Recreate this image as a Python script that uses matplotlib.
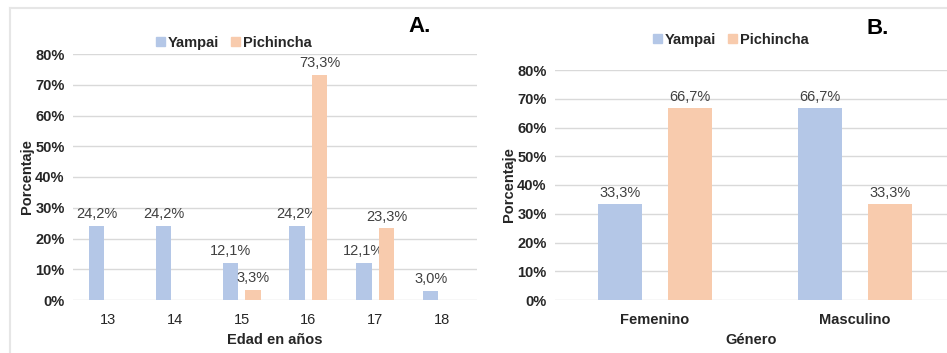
import matplotlib.pyplot as plt
import numpy as np
from matplotlib.patches import Patch

# --- data ---
edades = ['13', '14', '15', '16', '17', '18']
yampai_edad = [24.2, 24.2, 12.1, 24.2, 12.1, 3.0]
pichincha_edad = [None, None, 3.3, 73.3, 23.3, None]

generos = ['Femenino', 'Masculino']
yampai_gen = [33.3, 66.7]
pichincha_gen = [66.7, 33.3]

c_yam = '#b4c7e7'
c_pic = '#f8cbad'
grid_c = '#d9d9d9'

plt.rcParams['font.family'] = ['Liberation Sans', 'DejaVu Sans']

fig = plt.figure(figsize=(9.47, 3.53), dpi=100)

# light frame around the panels
fig.add_artist(plt.Line2D([10/947, 10/947], [0, 1 - 8/353], color='#e6e6e6', lw=1.5))
fig.add_artist(plt.Line2D([10/947, 1], [1 - 8/353, 1 - 8/353], color='#e6e6e6', lw=1.5))


def fmt(v):
    return ('%.1f%%' % v).replace('.', ',')


def draw(ax, cats, s1, s2, width, off, bold_x):
    x = np.arange(len(cats))
    for vals, dx, col in ((s1, -off, c_yam), (s2, off, c_pic)):
        for xi, v in zip(x, vals):
            if v is None:
                continue
            ax.bar(xi + dx, v, width, color=col, zorder=3)
            ax.text(xi + dx, v + 1.5, fmt(v), ha='center', va='bottom',
                    fontsize=10.5, color='#404040')
    ax.set_ylim(0, 80)
    ax.set_yticks(range(0, 81, 10))
    ax.set_yticklabels(['%d%%' % t for t in range(0, 81, 10)],
                       fontsize=10.5, fontweight='bold', color='#262626')
    ax.set_xticks(x)
    ax.set_xticklabels(cats, fontsize=10.5,
                       fontweight='bold' if bold_x else 'normal', color='#262626')
    ax.yaxis.grid(True, color=grid_c, lw=1, zorder=0)
    ax.set_axisbelow(True)
    for s in ax.spines.values():
        s.set_visible(False)
    ax.tick_params(length=0, pad=6)
    ax.tick_params(axis='x', pad=9)


# panel A
axA = fig.add_axes([73/947, 53/353, 404/947, 246/353])
draw(axA, edades, yampai_edad, pichincha_edad, 0.23, 0.17, False)
axA.set_xlim(-0.524, 5.524)
axA.set_xlabel('Edad en años', fontsize=10.5, fontweight='bold', color='#262626', labelpad=5)
axA.set_ylabel('Porcentaje', fontsize=10.5, fontweight='bold', color='#262626', labelpad=1)

# panel B
axB = fig.add_axes([555/947, 53/353, 392/947, 230/353])
draw(axB, generos, yampai_gen, pichincha_gen, 0.22, 0.175, True)
axB.set_xlim(-0.5, 1.46)
axB.set_xlabel('Género', fontsize=10.5, fontweight='bold', color='#262626', labelpad=5)
axB.set_ylabel('Porcentaje', fontsize=10.5, fontweight='bold', color='#262626', labelpad=1)

# legends
handles = [Patch(color=c_yam, label='Yampai'), Patch(color=c_pic, label='Pichincha')]
for cx, cy in ((234/947, 1 - 43/353), (731/947, 1 - 40/353)):
    fig.legend(handles=handles, loc='center', bbox_to_anchor=(cx, cy), ncol=2,
               frameon=False, prop={'weight': 'bold', 'size': 10.5},
               handlelength=0.6, handleheight=0.6, handletextpad=0.25,
               columnspacing=0.8, labelcolor='#262626')

fig.text(420/947, 1 - 27/353, 'A.', fontsize=16, fontweight='bold', ha='center', va='center')
fig.text(878/947, 1 - 29/353, 'B.', fontsize=16, fontweight='bold', ha='center', va='center')

fig.savefig('out.png', dpi=100)
